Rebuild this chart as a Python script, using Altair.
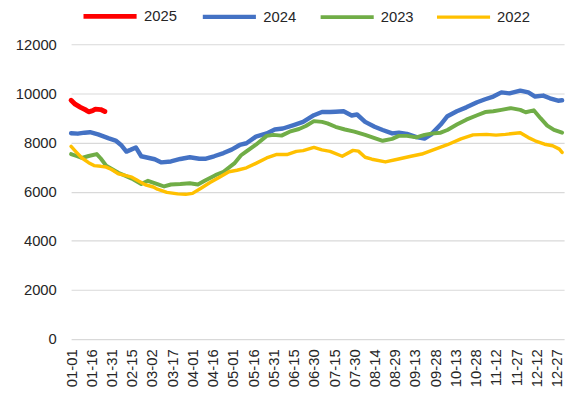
import altair as alt
import pandas as pd

years = ["2025", "2024", "2023", "2022"]
colors = ["#FF0000", "#4472C4", "#70AD47", "#FFC000"]

# day index (days since 01-01) and values for each series
day_2025 = [0, 3, 7, 11, 13, 16, 18, 22, 25]
val_2025 = [9720, 9560, 9430, 9320, 9250, 9300, 9360, 9340, 9260]

day_2024 = [0, 5, 10, 14, 20, 28, 33, 37, 41, 44, 48, 52, 57, 62, 67, 74, 81, 88, 95, 100,
            106, 113, 119, 125, 130, 137, 145, 151, 157, 165, 172, 180, 186, 192, 196, 202,
            208, 212, 218, 225, 231, 238, 243, 249, 256, 262, 267, 274, 279, 286, 293, 301,
            307, 313, 319, 325, 333, 339, 344, 350, 355, 361, 364]
val_2024 = [8380, 8360, 8400, 8420, 8330, 8170, 8080, 7900, 7630, 7700, 7800, 7440, 7380, 7320,
            7190, 7230, 7330, 7400, 7340, 7340, 7440, 7570, 7710, 7900, 7970, 8240, 8370, 8530,
            8570, 8710, 8840, 9110, 9240, 9240, 9250, 9270, 9100, 9140, 8840, 8640, 8510, 8370,
            8400, 8350, 8220, 8160, 8330, 8730, 9070, 9270, 9430, 9640, 9760, 9870, 10040,
            10000, 10110, 10040, 9870, 9910, 9800, 9700, 9720]

day_2023 = [0, 4, 8, 13, 19, 22, 26, 35, 45, 52, 57, 64, 69, 74, 81, 88, 94, 99, 107, 113,
            121, 126, 130, 137, 145, 150, 156, 162, 169, 174, 180, 186, 190, 196, 203, 210,
            218, 225, 231, 238, 243, 249, 256, 262, 267, 274, 279, 286, 293, 301, 307, 313,
            319, 326, 333, 337, 343, 348, 353, 358, 364]
val_2023 = [7530, 7450, 7370, 7450, 7530, 7350, 7060, 6770, 6530, 6310, 6440, 6310, 6210, 6290,
            6310, 6340, 6290, 6440, 6670, 6810, 7150, 7480, 7640, 7910, 8270, 8310, 8280, 8440,
            8550, 8670, 8870, 8840, 8780, 8640, 8530, 8440, 8310, 8180, 8070, 8150, 8270, 8270,
            8210, 8310, 8360, 8400, 8510, 8730, 8930, 9110, 9240, 9270, 9330, 9400, 9330, 9230,
            9310, 8990, 8690, 8510, 8400]

day_2022 = [0, 4, 8, 13, 17, 22, 26, 30, 35, 40, 45, 50, 55, 61, 64, 71, 79, 85, 90, 96,
            103, 110, 117, 123, 130, 137, 145, 152, 160, 167, 172, 180, 186, 192, 201, 209,
            213, 218, 223, 233, 242, 252, 260, 269, 279, 289, 298, 308, 315, 322, 333, 339,
            344, 351, 357, 362, 364]
val_2022 = [7840, 7600, 7370, 7180, 7060, 7030, 7000, 6900, 6730, 6660, 6590, 6430, 6280, 6190,
            6100, 5970, 5910, 5890, 5930, 6130, 6370, 6590, 6810, 6870, 6970, 7150, 7370, 7510,
            7510, 7640, 7670, 7800, 7700, 7640, 7440, 7680, 7650, 7400, 7320, 7210, 7320, 7440,
            7530, 7710, 7910, 8150, 8310, 8330, 8300, 8330, 8400, 8200, 8070, 7930, 7870, 7730,
            7600]

tick_days = list(range(0, 361, 15))
tick_labels = ["01-01", "01-16", "01-31", "02-15", "03-02", "03-17", "04-01", "04-16",
               "05-01", "05-16", "05-31", "06-15", "06-30", "07-15", "07-30", "08-14",
               "08-29", "09-13", "09-28", "10-13", "10-28", "11-12", "11-27", "12-12", "12-27"]
y_ticks = [0, 2000, 4000, 6000, 8000, 10000, 12000]

series = {
    "2025": (day_2025, val_2025),
    "2024": (day_2024, val_2024),
    "2023": (day_2023, val_2023),
    "2022": (day_2022, val_2022),
}
rows = []
for k, yr in enumerate(years):
    d, v = series[yr]
    for i in range(len(d)):
        rows.append({"year": yr, "day": d[i], "value": v[i], "ord": k})
df = pd.DataFrame(rows)

label_expr = "[" + ",".join("'%s'" % t for t in tick_labels) + "][round(datum.value/15)]"

FONT = "Liberation Sans"
TXT = "#262626"

chart = alt.Chart(df).mark_line(strokeCap="round", strokeJoin="round").encode(
    x=alt.X("day:Q",
            scale=alt.Scale(domain=[0, 365.5], nice=False, zero=False),
            axis=alt.Axis(values=tick_days, labelExpr=label_expr, labelAngle=-90,
                          grid=False, ticks=False, domain=False, labelPadding=10,
                          labelFontSize=15, labelFont=FONT, labelColor=TXT,
                          labelOverlap=False, labelFlush=False, title=None)),
    y=alt.Y("value:Q",
            scale=alt.Scale(domain=[0, 12000], nice=False),
            axis=alt.Axis(values=y_ticks, format="d", grid=True, gridColor="#D9D9D9",
                          gridWidth=1.2, ticks=False, domain=False, labelPadding=15,
                          labelFontSize=15, labelFont=FONT, labelColor=TXT, title=None)),
    color=alt.Color("year:N", title=None,
                    scale=alt.Scale(domain=years, range=colors),
                    legend=alt.Legend(orient="none", legendX=10, legendY=-58,
                                      direction="horizontal", symbolType="stroke",
                                      symbolSize=2900, symbolStrokeWidth=4.5,
                                      labelFontSize=15, labelFont=FONT, labelColor=TXT,
                                      labelOffset=5, columnPadding=16)),
    strokeWidth=alt.StrokeWidth("year:N",
                                scale=alt.Scale(domain=years, range=[5, 3.5, 3.5, 3.5]),
                                legend=None),
    detail="year:N",
).properties(
    width=500, height=299,
    padding={"left": 64, "top": 34, "right": 7, "bottom": 54},
    autosize=alt.AutoSizeParams(type="none"),
).configure_view(stroke=None)

chart.save("out.html", embed_options={"renderer": "svg", "actions": False})
